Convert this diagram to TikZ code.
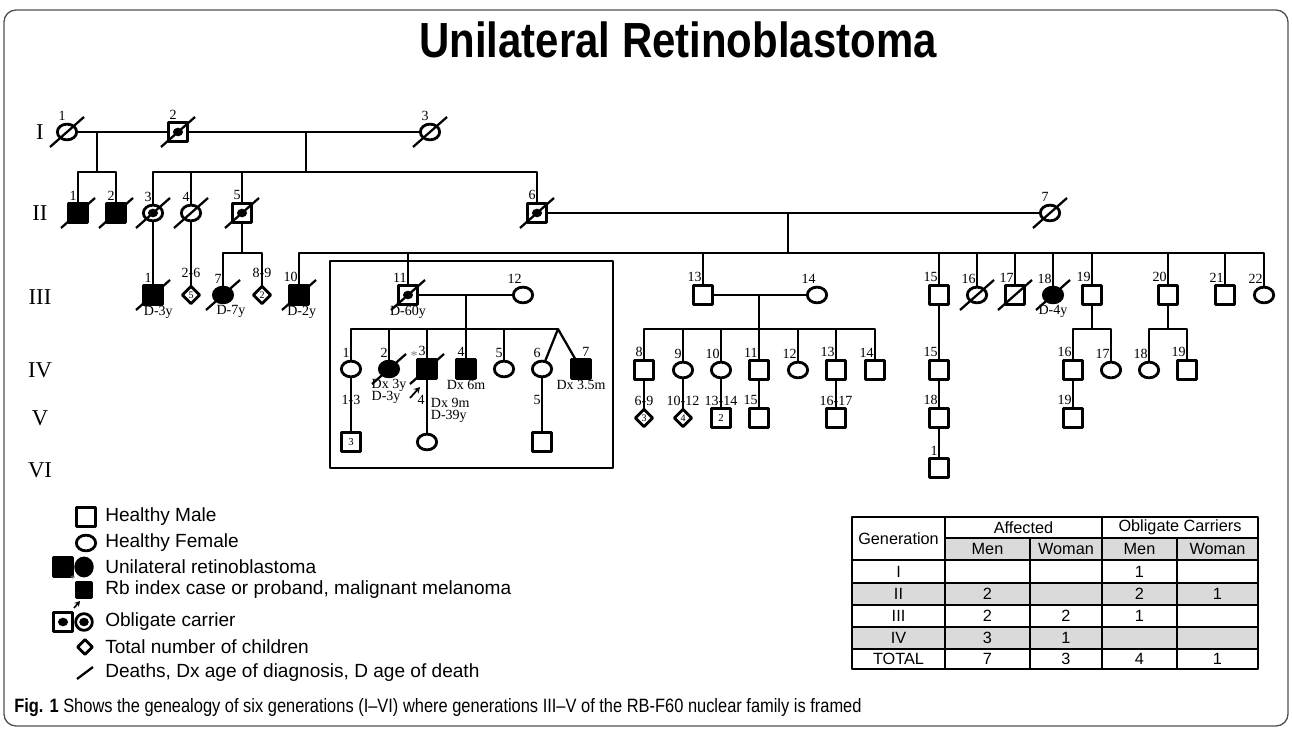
\documentclass[tikz,border=0pt]{standalone}
\usepackage{fontspec}
\setmainfont{Liberation Serif}
\setsansfont{Liberation Sans}
\newfontfamily\capfont[FakeStretch=0.85]{Liberation Sans}
\usetikzlibrary{shapes.geometric,arrows.meta}
\definecolor{tgray}{RGB}{218,218,218}
\definecolor{framegray}{RGB}{80,80,80}
\tikzset{
  sym/.style={draw,line width=2.1pt,inner sep=0pt,outer sep=0pt},
  male/.style={sym,rectangle,minimum size=14pt},
  female/.style={sym,ellipse,minimum width=14.5pt,minimum height=11.8pt},
  cnt/.style={sym,diamond,minimum size=13pt,font=\fontsize{7.5}{7.5}\selectfont},
  aff/.style={fill=black},
  num/.style={font=\fontsize{10.5}{9.5}\selectfont,inner sep=0.5pt},
  nr/.style={label={[num,anchor=south east,xshift=-0.3pt,yshift=1.2pt]north:#1}},
  nrr/.style={label={[num,anchor=south west,xshift=0.3pt,yshift=1.2pt]north:#1}},
  gen/.style={font=\fontsize{17}{17}\selectfont},
  lin/.style={line width=1.7pt},
  slash/.style={line width=1.7pt},
  lgtxt/.style={anchor=west,inner sep=0pt,font=\sffamily\fontsize{14.3}{15}\selectfont},
  tt/.style={inner sep=0pt,font=\sffamily\fontsize{12.2}{13}\selectfont},
  tline/.style={line width=1.4pt},
  every label/.append style={label distance=0.8pt}
}
\begin{document}
\begin{tikzpicture}[x=0.75pt,y=-0.75pt,>=stealth,line join=round]
\useasboundingbox (0,0) rectangle (1292,730);
\draw[framegray,line width=1pt,rounded corners=9pt] (4,10) rectangle (1288,726);
\node[font=\capfont\bfseries\fontsize{37}{37}\selectfont] (title) at (678,40) {Unilateral Retinoblastoma};

\foreach \g/\y in {I/132,II/213,III/297,IV/370,V/418,VI/470}
  \node[gen] (g\g) at (40,\y) {\g};

% generation I and II
\node[female,nr=1] (I1) at (67,132) {};
\node[male,nr=2] (I2) at (178,132) {};
\node[female,nr=3] (I3) at (430,132) {};
\node[male,aff,nr=1] (II1) at (78,213) {};
\node[male,aff,nr=2] (II2) at (116,213) {};
\node[female,nr=3] (II3) at (153,213) {};
\node[female,nr=4] (II4) at (191,213) {};
\node[male,nr=5] (II5) at (242,213) {};
\node[male,nr=6] (II6) at (537,213) {};
\node[female,nr=7] (II7) at (1050,213) {};

% generation III
\node[male,aff,nr=1,label={[num,xshift=4pt]below:D-3y}] (III1) at (153,295) {};
\node[cnt] (III2) at (191,295) {5};
\node[female,aff,nr=7,label={[num,xshift=6pt]below:D-7y}] (III7) at (223,295) {};
\node[cnt] (III8) at (262,295) {2};
\node[male,aff,nr=10,label={[num,xshift=2pt]below:D-2y}] (III10) at (299,295) {};
\node[male,nr=11,label={[num]below:D-60y}] (III11) at (408,295) {};
\node[female,nr=12] (III12) at (523,295) {};
\node[male,nr=13] (III13) at (703,295) {};
\node[female,nr=14] (III14) at (817,295) {};
\node[male,nr=15] (III15) at (939,295) {};
\node[female,nr=16] (III16) at (977,295) {};
\node[male,nr=17] (III17) at (1015,295) {};
\node[female,aff,nr=18,label={[num]below:D-4y}] (III18) at (1053,295) {};
\node[male,nr=19] (III19) at (1092,295) {};
\node[male,nr=20] (III20) at (1168,295) {};
\node[male,nr=21] (III21) at (1225,295) {};
\node[female,nr=22] (III22) at (1264,295) {};
\node[num] (c26) at (191,273) {2-6};
\node[num] (c89) at (262,273) {8-9};

% framed nuclear family
\draw[line width=1.3pt] (330,261) rectangle (613,468);
\node[female,nr=1] (IVa1) at (351,369) {};
\node[female,aff,nr=2,label={[num,align=left]below:Dx 3y\\D-3y}] (IVa2) at (389,369) {};
\node[male,aff,nr=3] (IVa3) at (427,369) {};
\node[male,aff,nr=4,label={[num]below:Dx 6m}] (IVa4) at (466,369) {};
\node[female,nr=5] (IVa5) at (504,369) {};
\node[female,nr=6] (IVa6) at (542,369) {};
\node[male,aff,nrr=7,label={[num]below:Dx 3.5m}] (IVa7) at (581,369) {};
\node[num,align=left,anchor=north west] (dx3) at (430,397) {Dx 9m\\D-39y};
\node[num,text=gray] (star) at (414,356) {*};
\node[male,font=\fontsize{8}{8}\selectfont] (Va1) at (351,442) {3};
\node[female] (Va3) at (427,442) {};
\node[male] (Va6) at (542,442) {};
\node[num] (c13) at (351,400) {1-3};
\node[num] (n4) at (421,400) {4};
\node[num] (n5) at (537,400) {5};

% generation IV to VI
\node[male,nr=8] (IV8) at (644,370) {};
\node[female,nr=9] (IV9) at (683,370) {};
\node[female,nr=10] (IV10) at (721,370) {};
\node[male,nr=11] (IV11) at (759,370) {};
\node[female,nr=12] (IV12) at (798,370) {};
\node[male,nr=13] (IV13) at (836,370) {};
\node[male,nr=14] (IV14) at (875,370) {};
\node[cnt] (V8) at (644,418) {3};
\node[cnt] (V9) at (683,418) {4};
\node[male,font=\fontsize{8}{8}\selectfont] (V10) at (721,418) {2};
\node[male,nr=15] (V11) at (759,418) {};
\node[male] (V13) at (836,418) {};
\node[num] (c69) at (644,401) {6-9};
\node[num] (c1012) at (683,401) {10-12};
\node[num] (c1314) at (721,401) {13-14};
\node[num] (c1617) at (836,401) {16-17};
\node[male,nr=15] (IV15) at (939,370) {};
\node[male,nr=18] (V15) at (939,418) {};
\node[male,nr=1] (VI1) at (939,468) {};
\node[male,nr=16] (IV16) at (1073,370) {};
\node[female,nr=17] (IV17) at (1111,370) {};
\node[female,nr=18] (IV18) at (1149,370) {};
\node[male,nr=19] (IV19) at (1187,370) {};
\node[male,nr=19] (V16) at (1073,418) {};

% lines of descent
\draw[lin] (I1) -- (I2) -- (I3);
\coordinate (m1) at (97,132); \coordinate (s1) at (97,172);
\coordinate (m2) at (306,132); \coordinate (s2) at (306,172);
\draw[lin] (m1) -- (s1) (m2) -- (s2);
\draw[lin] (II1) |- (s1) -| (II2);
\foreach \c in {II3,II4,II5,II6} \draw[lin] (s2) -| (\c);
\draw[lin] (II6) -- (II7);
\coordinate (m3) at (788,213); \coordinate (s3) at (788,253);
\draw[lin] (m3) -- (s3);
\foreach \c in {III10,III11,III13,III15,III16,III17,III18,III19,III20,III21,III22}
  \draw[lin] (s3) -| (\c);
\draw[lin] (II3) -- (III1) (II4) -- (III2);
\coordinate (s4) at (242,253);
\draw[lin] (II5) -- (s4);
\foreach \c in {III7,III8} \draw[lin] (s4) -| (\c);
\draw[lin] (III11) -- (III12);
\coordinate (m5) at (466,295); \coordinate (s5) at (466,329); \coordinate (tw) at (558,329);
\draw[lin] (m5) -- (s5) -- (tw);
\foreach \c in {IVa1,IVa2,IVa3,IVa4,IVa5} \draw[lin] (s5) -| (\c);
\draw[lin] (IVa6) -- (tw) -- (IVa7);
\draw[lin] (IVa1) -- (Va1) (IVa3) -- (Va3) (IVa6) -- (Va6);
\draw[lin] (III13) -- (III14);
\coordinate (m6) at (759,295); \coordinate (s6) at (759,329);
\draw[lin] (m6) -- (s6);
\foreach \c in {IV8,IV9,IV10,IV11,IV12,IV13,IV14} \draw[lin] (s6) -| (\c);
\draw[lin] (IV8) -- (V8) (IV9) -- (V9) (IV10) -- (V10) (IV11) -- (V11) (IV13) -- (V13);
\draw[lin] (III15) -- (IV15) -- (V15) -- (VI1);
\coordinate (s7) at (1092,329); \coordinate (s8) at (1168,329);
\draw[lin] (III19) -- (s7) (III20) -- (s8);
\foreach \c in {IV16,IV17} \draw[lin] (s7) -| (\c);
\foreach \c in {IV18,IV19} \draw[lin] (s8) -| (\c);
\draw[lin] (IV16) -- (V16);

\foreach \p in {I1,I2,I3,II1,II2,II3,II4,II5,II6,II7,III1,III7,III10,III11,III16,III17,III18,IVa2,IVa3}
  \draw[slash] ([shift={(-17,15)}]\p.center) -- ([shift={(17,-15)}]\p.center);
\foreach \p in {I2,II3,II5,II6,III11}
  \fill (\p.center) ellipse (3.8pt and 3.2pt);
\coordinate (pa) at (410,398); \coordinate (pb) at (420,387);
\draw[-{Stealth[length=4.5pt,width=5pt]},line width=1.3pt] (pa) -- (pb);

% legend
\node[male] (lgM) at (86,517) {};
\node[female] (lgF) at (86,543) {};
\node[male,aff] (lgA1) at (63,567) {};
\node[female,aff,minimum width=12.5pt,minimum height=13.5pt] (lgA2) at (84,567) {};
\node[num,text=gray,font=\fontsize{8}{8}\selectfont] (lgS) at (73,579) {*};
\node[male,aff,minimum size=11pt] (lgP) at (84,590) {};
\coordinate (la) at (74,608); \coordinate (lb) at (80,601);
\draw[-{Stealth[length=4pt,width=4.5pt]},line width=1.2pt] (la) -- (lb);
\node[male] (lgC1) at (63,622) {};
\node[female,minimum width=12.5pt,minimum height=12.5pt] (lgC2) at (84,622) {};
\fill (lgC1.center) ellipse (3.8pt and 3.2pt);
\fill (lgC2.center) ellipse (3.6pt and 3.2pt);
\node[cnt,minimum size=11pt] (lgD) at (85,647) {};
\coordinate (ld1) at (77,679); \coordinate (ld2) at (93,667);
\draw[slash] (ld1) -- (ld2);
\foreach \t/\y [count=\i] in {Healthy Male/517,Healthy Female/543,Unilateral retinoblastoma/567,{Rb index case or proband, malignant melanoma}/590,Obligate carrier/622,Total number of children/647,{Deaths, Dx age of diagnosis, D age of death}/673}
  \node[lgtxt] (lt\i) at (105,\y) {\t};

% table
\fill[tgray] (945,538) rectangle (1258,560);
\fill[tgray] (852,583) rectangle (1258,605);
\fill[tgray] (852,627) rectangle (1258,649);
\draw[tline] (945,538) -- (1258,538);
\foreach \y in {560,583,605,627,649} \draw[tline] (852,\y) -- (1258,\y);
\foreach \x in {945,1102} \draw[tline] (\x,517) -- (\x,669);
\foreach \x in {1030,1177} \draw[tline] (\x,538) -- (\x,669);
\draw[line width=1.8pt] (852,517) rectangle (1258,669);
\node[tt] (th0) at (898.5,538.5) {Generation};
\node[tt] (th1) at (1023.5,527.5) {Affected};
\node[tt] (th2) at (1180,527.5) {Obligate Carriers};
\foreach \t/\x [count=\i] in {Men/987.5,Woman/1066,Men/1139.5,Woman/1217.5}
  \node[tt] (tm\i) at (\x,549) {\t};
\foreach \g/\a/\b/\c/\d/\y [count=\i] in {I/{}/{}/1/{}/571.5,II/2/{}/2/1/594,III/2/2/1/{}/616,IV/3/1/{}/{}/638,TOTAL/7/3/4/1/659}{
  \node[tt] (tg\i) at (898.5,\y) {\g};
  \node[tt] (ta\i) at (987.5,\y) {\a};
  \node[tt] (tb\i) at (1066,\y) {\b};
  \node[tt] (tc\i) at (1139.5,\y) {\c};
  \node[tt] (td\i) at (1217.5,\y) {\d};
}

\node[anchor=west,inner sep=0pt,font=\capfont\fontsize{14.5}{14.5}\selectfont] (cap) at (14,708) {\textbf{Fig. 1} Shows the genealogy of six generations (I–VI) where generations III–V of the RB-F60 nuclear family is framed};
\end{tikzpicture}
\end{document}
